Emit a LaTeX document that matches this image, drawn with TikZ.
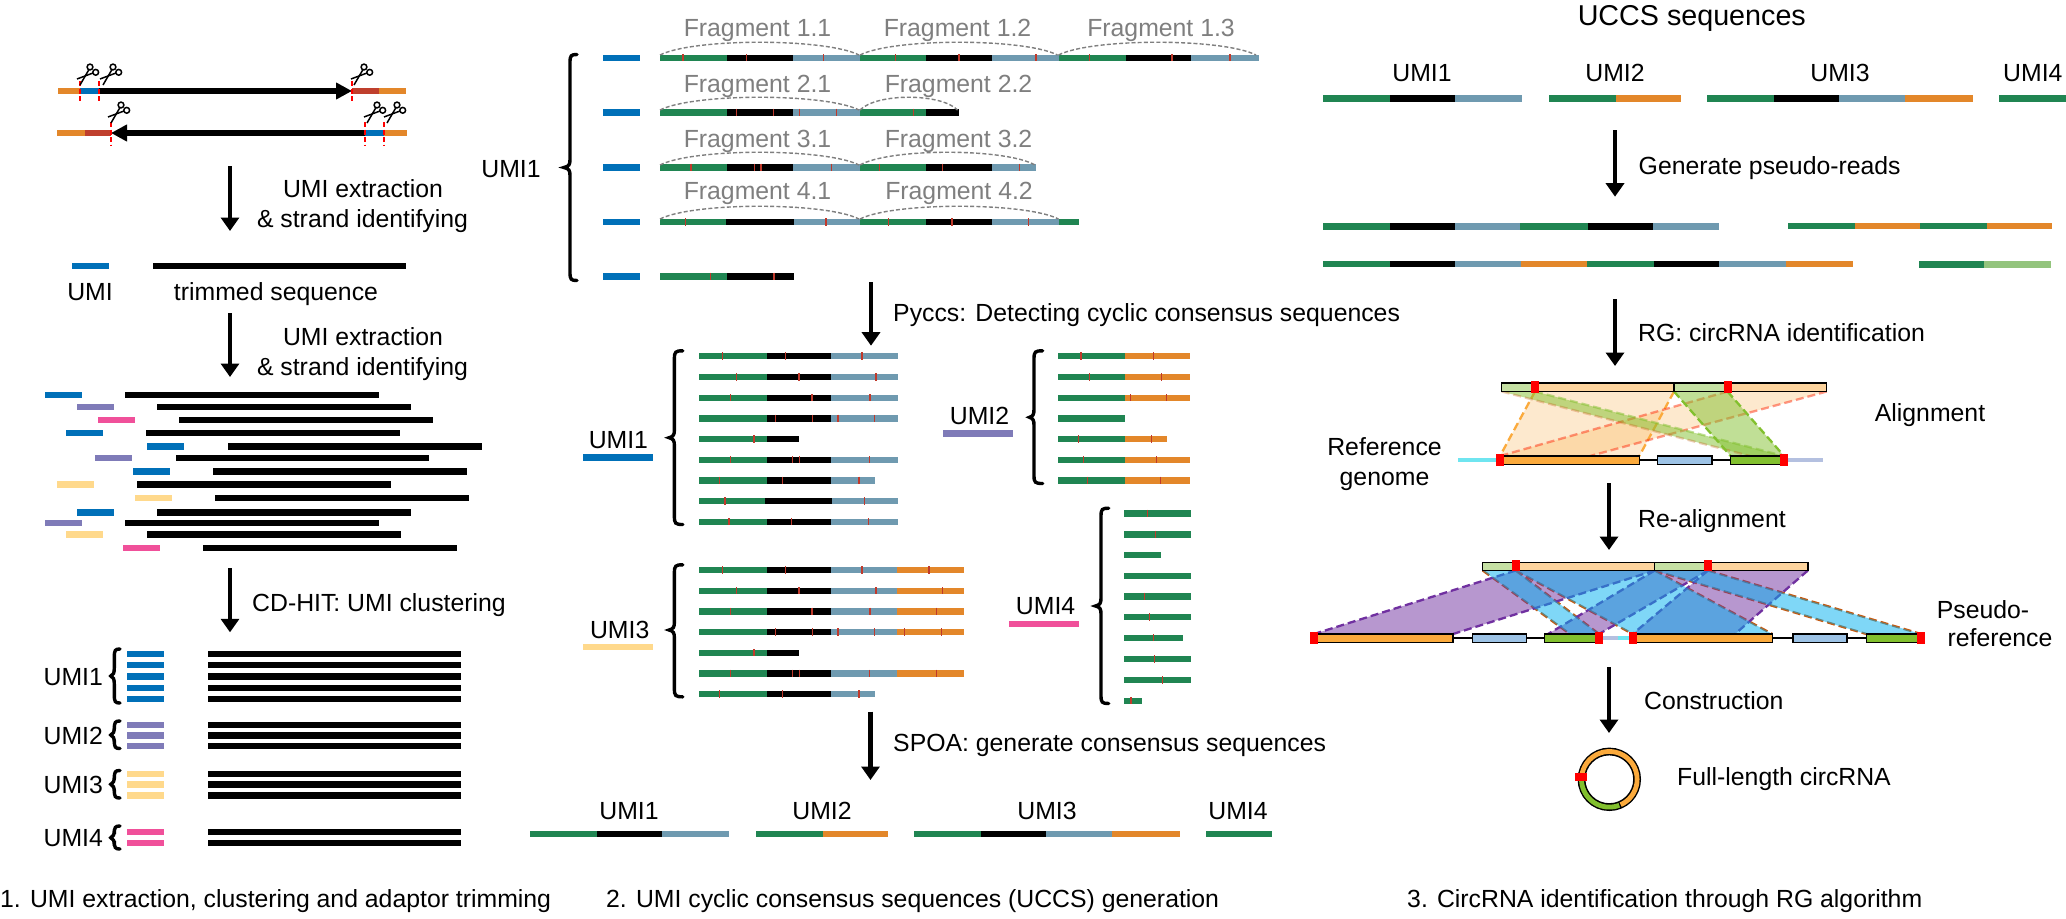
\documentclass[tikz,border=0pt]{standalone}
\usepackage{fontspec}
\setmainfont{Liberation Sans}
\usetikzlibrary{arrows.meta}
\definecolor{seqgreen}{HTML}{208552}
\definecolor{seqslate}{HTML}{6F9AB0}
\definecolor{seqorange}{HTML}{E3872A}
\definecolor{seqlight}{HTML}{93C47D}
\definecolor{umiblue}{HTML}{0070B8}
\definecolor{umipurple}{HTML}{7F7BB8}
\definecolor{umipink}{HTML}{F0509A}
\definecolor{umiyellow}{HTML}{FFD98C}
\definecolor{adbrown}{HTML}{BF3F2D}
\definecolor{mutred}{HTML}{C0392B}
\definecolor{fraggray}{HTML}{7F7F7F}
\definecolor{toplgreen}{HTML}{C5E0A3}
\definecolor{toplorange}{HTML}{FDD49E}
\definecolor{exorange}{HTML}{FBAA3C}
\definecolor{exblue}{HTML}{9DC3E6}
\definecolor{exgreen}{HTML}{82C02E}
\definecolor{flankcyan}{HTML}{6FE5F0}
\definecolor{flanklav}{HTML}{B4C0E0}
\definecolor{ribbonpurple}{HTML}{7030A0}
\definecolor{ribboncyan}{HTML}{00B0F0}
\definecolor{edgebrown}{HTML}{C55A11}
\tikzset{
  lbl/.style={font=\fontsize{24.8}{25}\selectfont,inner sep=0pt,text height=18pt,text depth=0pt},
  lblw/.style={lbl,anchor=west},
  titlelbl/.style={font=\fontsize{28.7}{29}\selectfont,inner sep=0pt,text height=20.5pt,text depth=0pt},
  fraglbl/.style={lbl,text=fraggray},
  flowarrow/.style={line width=4.8pt,-{Triangle[length=13.5pt,width=18pt]}},
  strandarrow/.style={line width=6pt,-{Triangle[length=16pt,width=16pt]}},
  cutline/.style={red,line width=1.5pt,dash pattern=on 5pt off 2.5pt},
  scissorline/.style={black,line width=1.5pt},
  mutation/.style={mutred,line width=1.3pt},
  fragarc/.style={fraggray,line width=1.4pt,dash pattern=on 4pt off 2.2pt},
  curly/.style={black,line width=3.4pt,line cap=round},
  boxed/.style={draw=black,line width=1.5pt},
  dashedge/.style={line width=2.3pt,dash pattern=on 8pt off 4pt},
  marker/.style={fill=red}
}
% horizontal bar made of consecutive coloured segments
\newcommand{\seqbar}[3]{%
  \xdef\prevx{#2}%
  \foreach \nx/\segcol in {#3}{%
    \fill[\segcol] (\prevx,#1-3.2) rectangle (\nx,#1+3.2);
    \xdef\prevx{\nx}%
  }}
\newcommand{\onebar}[4]{\fill[#4] (#2,#1-3.2) rectangle (#3,#1+3.2);}
\newcommand{\tickrow}[2]{\foreach \tx in {#2}{\draw[mutation] (\tx,#1-3.6) -- (\tx,#1+3.6);}}
\newcommand{\fragcurve}[3]{\draw[fragarc] (#1,#3) .. controls ({#1+0.17*(#2-#1)},#3-17) and ({#2-0.17*(#2-#1)},#3-17) .. (#2,#3);}
% left curly brace: tip x, spine x, end x, top y, tip y, bottom y
\newcommand{\curlybrace}[6]{\draw[curly] (#3,#4) .. controls ({#2+1},#4) and (#2,{#4+1}) .. (#2,#4+8) -- (#2,#5-8) .. controls (#2,#5-3) and ({#2-1},#5-1) .. (#1+1.5,#5) .. controls ({#2-1},#5+1) and (#2,#5+3) .. (#2,#5+8) -- (#2,#6-8) .. controls (#2,{#6-1}) and ({#2+1},#6) .. (#3,#6);}
% scissors with the closing point of the blades at (x,y)
\newcommand{\scissors}[2]{%
  \draw[scissorline] (#1+10,#2-18) circle (2.9);
  \draw[scissorline] (#1+15.7,#2-12.7) circle (2.9);
  \draw[scissorline] (#1+9,#2-15.5) -- (#1,#2);
  \draw[scissorline] (#1+13,#2-12) -- (#1-3,#2-6);
}
\newcommand{\flow}[4]{%
  \coordinate (#1s) at (#2,#3);
  \coordinate (#1e) at (#2,#4);
  \draw[flowarrow] (#1s) -- (#1e);
}
\newcommand{\exon}[5]{\filldraw[boxed,fill=#5] (#1,#3) rectangle (#2,#4);}
\newcommand{\redmark}[2]{\fill[marker] (#1-4,#2-6) rectangle (#1+4,#2+6);}
\begin{document}
\begin{tikzpicture}[x=1pt,y=-1pt]
\useasboundingbox (0,0) rectangle (2066,918);
\fill[white] (0,0) rectangle (2066,918);

% ---------- panel 1: UMI extraction and clustering ----------
\seqbar{91}{58}{80/seqorange,99/umiblue}
\seqbar{91}{352}{379/adbrown,406/seqorange}
\coordinate (sa) at (99,91); \coordinate (sb) at (352,91);
\draw[strandarrow] (sa) -- (sb);
\seqbar{133}{57}{85/seqorange,111/adbrown}
\seqbar{133}{365}{384/umiblue,407/seqorange}
\coordinate (ra) at (365,133); \coordinate (rb) at (111,133);
\draw[strandarrow] (ra) -- (rb);
\foreach \cx in {80,99,352}{\draw[cutline] (\cx,81) -- (\cx,103);}
\foreach \cx in {111,365,384}{\draw[cutline] (\cx,122) -- (\cx,145);}
\scissors{80}{85}\scissors{103}{85}\scissors{354}{85}
\scissors{111}{123}\scissors{367}{123}\scissors{387}{123}

\flow{fa}{230}{166}{231}
\node[lbl] (t1a) at (363,188) {UMI extraction};
\node[lbl] (t1b) at (362.5,218) {\& strand identifying};
\onebar{266}{72}{109}{umiblue}
\onebar{266}{153}{406}{black}
\node[lbl] (t1c) at (90,291) {UMI};
\node[lbl] (t1d) at (276,291) {trimmed sequence};
\flow{fb}{230}{313}{377}
\node[lbl] (t1e) at (363,336) {UMI extraction};
\node[lbl] (t1f) at (362.5,366) {\& strand identifying};

\foreach \ux/\ucol/\bx/\ex/\ry in {
  44.7/umiblue/125/379/394.7, 76.7/umipurple/157/411/406.7, 98.3/umipink/179/433/419.7,
  66/umiblue/146.3/400/433, 147.3/umiblue/228/482/446.3, 95/umipurple/175.7/429.3/457.7,
  133/umiblue/213.3/467.3/471.3, 57/umiyellow/137/391/484.3, 135/umiyellow/215.3/469/498,
  76.7/umiblue/157.3/410.7/512.3, 44.7/umipurple/125/379/523, 66/umiyellow/146.7/400.7/534.3,
  123/umipink/203.3/457/547.7}{
  \fill[\ucol] (\ux,\ry-3.2) rectangle (\ux+37,\ry+3.2);
  \fill[black] (\bx,\ry-3.2) rectangle (\ex,\ry+3.2);
}
\flow{fc}{230}{568}{632.3}
\node[lblw] (t1g) at (252,602) {CD-HIT: UMI clustering};

\foreach \ry in {654,665,676.3,687.7,698.7}{\onebar{\ry}{127}{164}{umiblue}\onebar{\ry}{207.7}{461.3}{black}}
\foreach \ry in {725,735.3,746}{\onebar{\ry}{127}{164}{umipurple}\onebar{\ry}{207.7}{461.3}{black}}
\foreach \ry in {773.7,784.3,795.3}{\onebar{\ry}{127}{164}{umiyellow}\onebar{\ry}{207.7}{461.3}{black}}
\foreach \ry in {832,842.7}{\onebar{\ry}{127}{164}{umipink}\onebar{\ry}{207.7}{461.3}{black}}
\node[lbl] (g1) at (73.3,676) {UMI1};
\node[lbl] (g2) at (73.3,735) {UMI2};
\node[lbl] (g3) at (73.3,784.3) {UMI3};
\node[lbl] (g4) at (73.3,837.7) {UMI4};
\curlybrace{109.3}{114.3}{120}{649}{676}{703}
\curlybrace{109.3}{114.3}{120}{721}{735}{748.5}
\curlybrace{109.3}{114.3}{120}{770.5}{784.3}{798}
\curlybrace{109.3}{114.3}{120}{826}{837.7}{849}

% ---------- panel 2: cyclic consensus ----------
\foreach \ry in {57.7,112.3,167.3,222,276.3}{\onebar{\ry}{602.5}{640}{umiblue}}
\seqbar{57.7}{660}{727/seqgreen,792.5/black,860/seqslate,926/seqgreen,991.5/black,1058.5/seqslate,1125.5/seqgreen,1191/black,1258.5/seqslate}
\seqbar{112.3}{660}{727/seqgreen,792.5/black,860/seqslate,926/seqgreen,959/black}
\seqbar{167.3}{660}{727/seqgreen,792.5/black,860/seqslate,926/seqgreen,991.5/black,1035.5/seqslate}
\seqbar{222}{660}{726/seqgreen,793.5/black,860/seqslate,926/seqgreen,991.5/black,1058.5/seqslate,1079/seqgreen}
\seqbar{276.3}{660}{727/seqgreen,793.5/black}
\tickrow{57.7}{683,746.5,823.5,895.5,959,1036,1089.5,1172,1230}
\tickrow{112.3}{736.5,773.5,799.5,836.5,913.5}
\tickrow{167.3}{691,754.5,761,831.5,879.5,942.5,1019.5}
\tickrow{222}{685.5,826,888.5,952,1028.5}
\tickrow{276.3}{710.5,774}
\fragcurve{660}{859}{55}\fragcurve{860}{1057.5}{55}\fragcurve{1058.5}{1256}{55}
\fragcurve{660}{859}{110}\fragcurve{860}{957.5}{110}
\fragcurve{660}{859}{165}\fragcurve{860}{1035}{165}
\fragcurve{660}{859}{219}\fragcurve{860}{1058.5}{219}
\node[fraglbl] (f11) at (757.5,27.3) {Fragment 1.1};
\node[fraglbl] (f12) at (957.5,27.3) {Fragment 1.2};
\node[fraglbl] (f13) at (1161,27.3) {Fragment 1.3};
\node[fraglbl] (f21) at (757.5,83) {Fragment 2.1};
\node[fraglbl] (f22) at (958.5,83) {Fragment 2.2};
\node[fraglbl] (f31) at (757.5,138) {Fragment 3.1};
\node[fraglbl] (f32) at (958.5,138) {Fragment 3.2};
\node[fraglbl] (f41) at (757.5,190) {Fragment 4.1};
\node[fraglbl] (f42) at (959,190) {Fragment 4.2};
\node[lbl] (u0) at (511,168) {UMI1};
\curlybrace{562.5}{570}{577}{54.5}{167.5}{280.5}

\flow{fd}{871}{282}{345.7}
\node[lblw] (t2a) at (893,312) {Pyccs: Detecting cyclic consensus sequences};

% UMI1 group
\seqbar{356}{699.2}{766.5/seqgreen,831/black,898.3/seqslate}
\seqbar{377}{699.2}{766.5/seqgreen,831/black,898.3/seqslate}
\seqbar{397.7}{699.2}{766.5/seqgreen,831/black,898.3/seqslate}
\seqbar{418.3}{699.2}{766.5/seqgreen,831/black,898.3/seqslate}
\seqbar{439}{699.2}{766.5/seqgreen,798.5/black}
\seqbar{459.7}{699.2}{766.5/seqgreen,831/black,898.3/seqslate}
\seqbar{480.3}{699.2}{766.5/seqgreen,831/black,875/seqslate}
\seqbar{501}{699.2}{765/seqgreen,832/black,898.3/seqslate}
\seqbar{521.7}{699.2}{766.5/seqgreen,831/black,898.3/seqslate}
\tickrow{356}{722.8,785.5,862.1}
\tickrow{377}{736.2,799,876}
\tickrow{397.7}{730.8,812,870.1}
\tickrow{418.3}{775.8,812.4,838.1,874.7}
\tickrow{439}{753.9}
\tickrow{459.7}{730.8,792.6,799.8,869.7}
\tickrow{480.3}{719.8,782.5,859.1}
\tickrow{501}{724.9,864.6}
\tickrow{521.7}{729.1,791.8,868.8}
\curlybrace{667.6}{674.4}{682.8}{350.8}{437.7}{524.5}
\node[lbl] (u1) at (618.4,439) {UMI1};
\onebar{457.3}{583}{653}{umiblue}

% UMI2 group
\foreach \ry in {356,377,397.7,459.7,480.3}{\seqbar{\ry}{1057.8}{1125/seqgreen,1190/seqorange}}
\seqbar{418.3}{1057.8}{1125/seqgreen}
\seqbar{439}{1057.8}{1125/seqgreen,1166.8/seqorange}
\tickrow{356}{1080.9,1153.8}
\tickrow{377}{1089.4,1161.8}
\tickrow{397.7}{1130.2,1166.8}
\tickrow{439}{1078.4,1151.2}
\tickrow{459.7}{1083.5,1156.3}
\tickrow{480.3}{1087.3,1160.5}
\curlybrace{1028}{1034}{1042.6}{350.8}{417.3}{483.5}
\node[lbl] (u2) at (979.5,415) {UMI2};
\onebar{433.3}{943.3}{1012.8}{umipurple}

% UMI3 group
\foreach \ry in {570,590.7,611.3,632,673.3}{\seqbar{\ry}{699.2}{766.5/seqgreen,831/black,897.4/seqslate,964.4/seqorange}}
\seqbar{652.7}{699.2}{766.5/seqgreen,798.5/black}
\seqbar{694}{699.2}{766.5/seqgreen,831/black,875/seqslate}
\tickrow{570}{722.8,785.5,862.1,929}
\tickrow{590.7}{736.2,799,876,942.5}
\tickrow{611.3}{730.8,812,870.1,936.6}
\tickrow{632}{775.8,812.4,838.1,874.7,904.6,941.2}
\tickrow{652.7}{753.9}
\tickrow{673.3}{730.8,792.6,799.8,869.7,936.6}
\tickrow{694}{719.8,782.5,859.1}
\curlybrace{667.6}{674.4}{682.8}{564.8}{630}{696.8}
\node[lbl] (u3) at (619.7,629.3) {UMI3};
\onebar{647}{583}{653}{umiyellow}

% UMI4 group
\foreach \ry/\re in {513.3/1191.2,534.3/1191.2,555/1160.5,575.7/1191.2,596.3/1191.2,617/1191.2,637.7/1182.8,659/1191.2,680/1191.2,700.7/1142.4}{\onebar{\ry}{1124.3}{\re}{seqgreen}}
\tickrow{513.3}{1147.4}
\tickrow{534.3}{1155.4}
\tickrow{596.3}{1144.5}
\tickrow{617}{1149.6}
\tickrow{637.7}{1153.8}
\tickrow{659}{1154.6}
\tickrow{680}{1162.6}
\tickrow{700.7}{1131}
\curlybrace{1094}{1101}{1108.7}{508.2}{606}{703.5}
\node[lbl] (u4) at (1045.6,605.7) {UMI4};
\onebar{623.7}{1009.4}{1078.8}{umipink}

\flow{fe}{870.5}{711.7}{780}
\node[lblw] (t2b) at (893,742) {SPOA: generate consensus sequences};

\seqbar{834}{530}{597/seqgreen,662/black,729/seqslate}
\seqbar{834}{755.7}{822.6/seqgreen,888/seqorange}
\seqbar{834}{914}{981/seqgreen,1046/black,1112/seqslate,1180/seqorange}
\seqbar{834}{1206}{1271.5/seqgreen}
\node[lbl] (b1) at (629,810) {UMI1};
\node[lbl] (b2) at (822,810) {UMI2};
\node[lbl] (b3) at (1047,810) {UMI3};
\node[lbl] (b4) at (1238,810) {UMI4};

% ---------- panel 3: RG algorithm ----------
\node[titlelbl] (t3a) at (1691.8,15) {UCCS sequences};
\node[lbl] (c1) at (1422,72.7) {UMI1};
\node[lbl] (c2) at (1615,72.7) {UMI2};
\node[lbl] (c3) at (1840,72.7) {UMI3};
\node[lbl] (c4) at (2032.8,72.7) {UMI4};
\seqbar{98.3}{1323}{1390/seqgreen,1454.9/black,1521.8/seqslate}
\seqbar{98.3}{1548.7}{1615.6/seqgreen,1681/seqorange}
\seqbar{98.3}{1707}{1773.9/seqgreen,1838.8/black,1904.8/seqslate,1972.7/seqorange}
\seqbar{98.3}{1999}{2066/seqgreen}
\flow{ff}{1615}{130}{196.7}
\node[lblw] (t3b) at (1638.5,165) {Generate pseudo-reads};
\seqbar{226.3}{1323}{1390/seqgreen,1454.9/black,1519.8/seqslate,1587.7/seqgreen,1652.7/black,1719/seqslate}
\seqbar{225.7}{1788}{1855/seqgreen,1920/seqorange,1986.8/seqgreen,2052.3/seqorange}
\seqbar{263.7}{1323}{1390/seqgreen,1454.9/black,1520.8/seqslate,1586.8/seqorange,1654.2/seqgreen,1719/black,1786/seqslate,1852.5/seqorange}
\seqbar{264.3}{1919}{1984/seqgreen,2050.8/seqlight}
\flow{fg}{1615}{299}{366}
\node[lblw] (t3c) at (1638,332) {RG: circRNA identification};

% alignment ribbons
\fill[exorange,opacity=.25] (1535,391.5) -- (1674,391.5) -- (1639.3,456) -- (1500,456) -- cycle;
\fill[exorange,opacity=.25] (1727.5,391.5) -- (1826.7,391.5) -- (1590,456) -- (1500,456) -- cycle;
\draw[exorange,dashedge] (1535,391.5) -- (1500,456);
\draw[exorange,dashedge] (1674,391.5) -- (1639.3,456);
\draw[red!70!exorange,opacity=.5,dashedge] (1727.5,391.5) -- (1500,456);
\draw[red!70!exorange,opacity=.5,dashedge] (1826.7,391.5) -- (1590,456);
\fill[exgreen,opacity=.5] (1501.7,391.5) -- (1535,391.5) -- (1784,456) -- (1750,456) -- cycle;
\fill[exgreen,opacity=.5] (1674,391.5) -- (1727.5,391.5) -- (1784,456) -- (1730.7,456) -- cycle;
\draw[edgebrown,opacity=.3,dashedge] (1501.7,391.5) -- (1750,456);
\draw[exgreen,opacity=.5,dashedge] (1535,391.5) -- (1784,456);
\draw[exgreen,dashedge] (1674,391.5) -- (1730.7,456);
\draw[exgreen,dashedge] (1727.5,391.5) -- (1784,456);

\draw[flankcyan,line width=4pt] (1458.3,460) -- (1500,460);
\draw[flanklav,line width=4pt] (1784,460) -- (1822.7,460);
\draw[black,line width=2.6pt] (1639.3,460) -- (1784,460);
\exon{1500}{1639.3}{456}{464.3}{exorange}
\exon{1657.7}{1712}{456}{464.3}{exblue}
\exon{1730.5}{1784}{456}{464.3}{exgreen}
\exon{1501.7}{1535}{383}{391.5}{toplgreen}
\exon{1535}{1674}{383}{391.5}{toplorange}
\exon{1674}{1727.5}{383}{391.5}{toplgreen}
\exon{1727.5}{1826.7}{383}{391.5}{toplorange}
\redmark{1535}{387}\redmark{1727.5}{387}\redmark{1500}{460}\redmark{1784}{460}
\node[lbl] (t3d) at (1930,412) {Alignment};
\node[lbl] (t3e) at (1384.5,446.7) {Reference};
\node[lbl] (t3f) at (1384.5,476.7) {genome};

\flow{fh}{1609}{483}{550}
\node[lblw] (t3g) at (1638,518) {Re-alignment};

% re-alignment ribbons
\draw[edgebrown,dashedge] (1515.7,570.5) -- (1632.7,634);
\draw[edgebrown,dashedge] (1654.7,570.5) -- (1772.3,634);
\draw[edgebrown,dashedge] (1654.7,570.5) -- (1866.3,634);
\draw[edgebrown,dashedge] (1708,570.5) -- (1921,634);
\draw[edgebrown,dashedge] (1482.7,570.5) -- (1570,634);
\draw[edgebrown,dashedge] (1515.7,570.5) -- (1599,634);
\fill[ribbonpurple,opacity=.5] (1515.7,570.5) -- (1654.7,570.5) -- (1453,634) -- (1314,634) -- cycle;
\fill[ribbonpurple,opacity=.5] (1708,570.5) -- (1807.8,570.5) -- (1735,634) -- (1632.7,634) -- cycle;
\fill[ribbonpurple,opacity=.5] (1654.7,570.5) -- (1708,570.5) -- (1599,634) -- (1548,634) -- cycle;
\draw[ribbonpurple,dashedge] (1515.7,570.5) -- (1314,634);
\draw[ribbonpurple,dashedge] (1654.7,570.5) -- (1453,634);
\draw[ribbonpurple,dashedge] (1708,570.5) -- (1632.7,634);
\draw[ribbonpurple,dashedge] (1807.8,570.5) -- (1735,634);
\draw[ribbonpurple,dashedge] (1654.7,570.5) -- (1548,634);
\draw[ribbonpurple,dashedge] (1708,570.5) -- (1599,634);
\fill[ribboncyan,opacity=.5] (1515.7,570.5) -- (1654.7,570.5) -- (1772.3,634) -- (1632.7,634) -- cycle;
\fill[ribboncyan,opacity=.5] (1654.7,570.5) -- (1708,570.5) -- (1921,634) -- (1866.3,634) -- cycle;
\fill[ribboncyan,opacity=.5] (1482.7,570.5) -- (1515.7,570.5) -- (1599,634) -- (1570,634) -- cycle;

\draw[flanklav,line width=4pt] (1599,638) -- (1617.6,638);
\draw[flankcyan,line width=4pt] (1617.6,638) -- (1632.6,638);
\draw[black,line width=2.6pt] (1453,638) -- (1599,638);
\draw[black,line width=2.6pt] (1772.3,638) -- (1921,638);
\exon{1314}{1453}{634}{642.3}{exorange}
\exon{1472.3}{1526.6}{634}{642.3}{exblue}
\exon{1544.5}{1599}{634}{642.3}{exgreen}
\exon{1632.6}{1772.3}{634}{642.3}{exorange}
\exon{1792.8}{1847}{634}{642.3}{exblue}
\exon{1866.3}{1921}{634}{642.3}{exgreen}
\exon{1482.7}{1515.7}{562.3}{570.7}{toplgreen}
\exon{1515.7}{1654.7}{562.3}{570.7}{toplorange}
\exon{1654.7}{1708}{562.3}{570.7}{toplgreen}
\exon{1708}{1807.8}{562.3}{570.7}{toplorange}
\fill[marker] (1511.7,560) rectangle (1519.7,571);
\fill[marker] (1704,560) rectangle (1712,571);
\redmark{1314}{638.3}\redmark{1599}{638.3}\redmark{1632.7}{638.3}\redmark{1921}{638.3}
\node[lbl] (t3h) at (1983,609) {Pseudo-};
\node[lbl] (t3i) at (2000,637) {reference};

\flow{fi}{1609}{667}{733}
\node[lblw] (t3j) at (1644,700) {Construction};

% circular RNA
\coordinate (ringc) at (1609.3,779.3);
\draw[black,line width=7.8pt] (1609.3,779.3) circle (27.8);
\draw[exorange,line width=4.8pt] plot[domain=180:426,samples=60] ({1609.3+27.8*cos(\x)},{779.3+27.8*sin(\x)});
\draw[exgreen,line width=4.8pt] plot[domain=69:180,samples=30] ({1609.3+27.8*cos(\x)},{779.3+27.8*sin(\x)});
\fill[red] (1574.7,772.7) rectangle (1586.7,781.3);
\node[lblw] (t3k) at (1677,776) {Full-length circRNA};

% panel captions
\node[lblw] (cap1) at (0,898.6) {1. UMI extraction, clustering and adaptor trimming};
\node[lblw] (cap2) at (606,898.6) {2. UMI cyclic consensus sequences (UCCS) generation};
\node[lblw] (cap3) at (1407,898.6) {3. CircRNA identification through RG algorithm};
\end{tikzpicture}
\end{document}
